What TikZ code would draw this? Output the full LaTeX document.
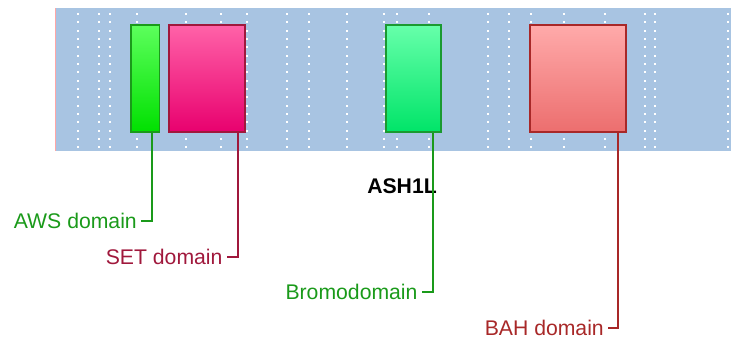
\documentclass[tikz,border=0pt]{standalone}
\usepackage{fontspec}
\setmainfont{Liberation Sans}
\usepackage{tikz}
\usetikzlibrary{positioning}

\definecolor{bandblue}{RGB}{168,196,226}
\definecolor{awsgreen}{RGB}{26,154,26}
\definecolor{setred}{RGB}{160,24,60}
\definecolor{bahred}{RGB}{168,40,40}

\begin{document}
\begin{tikzpicture}[
  x=1pt, y=1pt,
  font=\fontsize{21.2}{25}\selectfont,
  domainbox/.style={draw, line width=1.6pt, minimum height=107pt, inner sep=0pt},
  label/.style={anchor=east, inner sep=0pt, inner xsep=4pt},
  link/.style={line width=1.8pt}
]
\useasboundingbox (0,0) rectangle (732,339);

% background band with dotted grid
\fill[bandblue] (55,188.3) rectangle (731,331);
\draw[red!35, line width=0.8pt] (55.4,188.3) -- (55.4,331);
\foreach \x in {78.3,99.3,110.3,136.7,186,221,247.3,286.7,309.3,347,383.7,397,428.7,488.3,509,530.7,564,605.3,645.3,655,727.7}
  \foreach \k in {0,...,16}
    \fill[white] (\x-1,325-8.33*\k-1) rectangle ++(2,2);

% domains
\node[domainbox, draw=awsgreen, top color={rgb,255:red,92;green,255;blue,92}, bottom color={rgb,255:red,0;green,224;blue,0}, minimum width=28.3pt] (aws) at (145.2,260.2) {};
\node[domainbox, draw=setred, top color={rgb,255:red,255;green,98;blue,168}, bottom color={rgb,255:red,232;green,0;blue,110}, minimum width=76.3pt] (set) at (206.9,260.2) {};
\node[domainbox, draw={rgb,255:red,26;green,154;blue,48}, top color={rgb,255:red,102;green,255;blue,170}, bottom color={rgb,255:red,0;green,228;blue,104}, minimum width=54.7pt] (bromo) at (413.4,260.2) {};
\node[domainbox, draw=bahred, top color={rgb,255:red,255;green,170;blue,170}, bottom color={rgb,255:red,236;green,110;blue,110}, minimum width=96pt] (bah) at (577.7,260.2) {};

% protein name
\node[font=\fontsize{21.2}{25}\selectfont\bfseries] (prot) at (402,153) {ASH1L};

% labels
\node[label, text=awsgreen] (awslbl) at (141,118) {AWS domain};
\node[label, text=setred] (setlbl) at (226.7,82.3) {SET domain};
\node[label, text=awsgreen] (bromolbl) at (421.7,46.7) {Bromodomain};
\node[label, text=bahred] (bahlbl) at (608,10.7) {BAH domain};

% connectors
\draw[link, awsgreen] ([xshift=6.5pt]aws.south) |- (awslbl.east);
\draw[link, setred] ([xshift=30.8pt]set.south) |- (setlbl.east);
\draw[link, awsgreen] ([xshift=19.3pt]bromo.south) |- (bromolbl.east);
\draw[link, bahred] ([xshift=40.6pt]bah.south) |- (bahlbl.east);
\end{tikzpicture}
\end{document}
